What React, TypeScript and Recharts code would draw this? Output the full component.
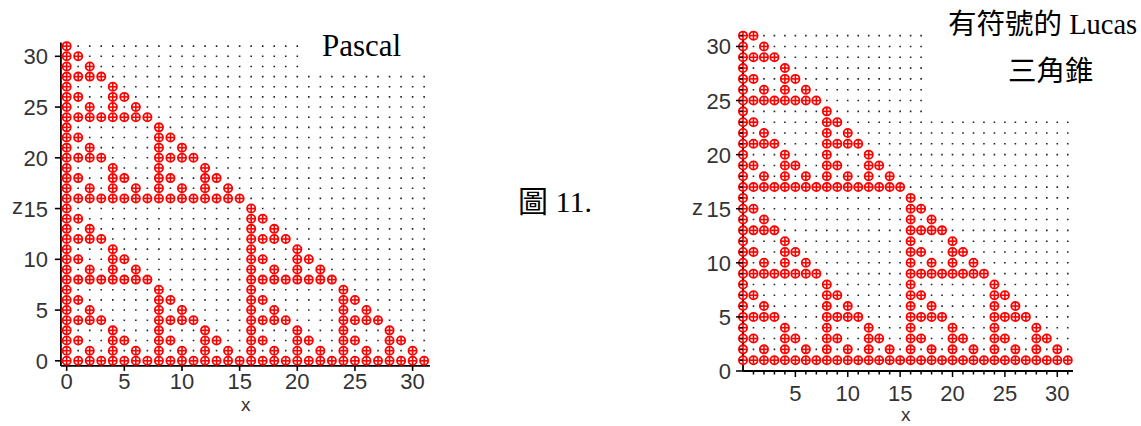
import React from 'react';
import { ScatterChart, Scatter, XAxis, YAxis, CartesianGrid } from 'recharts';

// ---------- DATA ----------
// Pascal triangle (left): rows from z = 31 (top) down to z = 0; 'o' = red point at that x (0..31)
const pascalRows: string[] = [
  'o.......|........|........|........', // 31
  'oo......|........|........|........', // 30
  'o.o.....|........|........|........', // 29
  'oooo....|........|........|........', // 28
  'o...o...|........|........|........', // 27
  'oo..oo..|........|........|........', // 26
  'o.o.o.o.|........|........|........', // 25
  'oooooooo|........|........|........', // 24
  'o.......|o.......|........|........', // 23
  'oo......|oo......|........|........', // 22
  'o.o.....|o.o.....|........|........', // 21
  'oooo....|oooo....|........|........', // 20
  'o...o...|o...o...|........|........', // 19
  'oo..oo..|oo..oo..|........|........', // 18
  'o.o.o.o.|o.o.o.o.|........|........', // 17
  'oooooooo|oooooooo|........|........', // 16
  'o.......|........|o.......|........', // 15
  'oo......|........|oo......|........', // 14
  'o.o.....|........|o.o.....|........', // 13
  'oooo....|........|oooo....|........', // 12
  'o...o...|........|o...o...|........', // 11
  'oo..oo..|........|oo..oo..|........', // 10
  'o.o.o.o.|........|o.o.o.o.|........', // 9
  'oooooooo|........|oooooooo|........', // 8
  'o.......|o.......|o.......|o.......', // 7
  'oo......|oo......|oo......|oo......', // 6
  'o.o.....|o.o.....|o.o.....|o.o.....', // 5
  'oooo....|oooo....|oooo....|oooo....', // 4
  'o...o...|o...o...|o...o...|o...o...', // 3
  'oo..oo..|oo..oo..|oo..oo..|oo..oo..', // 2
  'o.o.o.o.|o.o.o.o.|o.o.o.o.|o.o.o.o.', // 1
  'oooooooo|oooooooo|oooooooo|oooooooo', // 0
];
const pascalTopZ = 31;

// Signed Lucas triangle (right): rows from z = 31 (top) down to z = 1
const lucasRows: string[] = [
  'oo......|........|........|........', // 31
  'o.o.....|........|........|........', // 30
  'oooo....|........|........|........', // 29
  'o...o...|........|........|........', // 28
  'oo..oo..|........|........|........', // 27
  'o.o.o.o.|........|........|........', // 26
  'oooooooo|........|........|........', // 25
  'o.......|o.......|........|........', // 24
  'oo......|oo......|........|........', // 23
  'o.o.....|o.o.....|........|........', // 22
  'oooo....|oooo....|........|........', // 21
  'o...o...|o...o...|........|........', // 20
  'oo..oo..|oo..oo..|........|........', // 19
  'o.o.o.o.|o.o.o.o.|........|........', // 18
  'oooooooo|oooooooo|........|........', // 17
  'o.......|........|o.......|........', // 16
  'oo......|........|oo......|........', // 15
  'o.o.....|........|o.o.....|........', // 14
  'oooo....|........|oooo....|........', // 13
  'o...o...|........|o...o...|........', // 12
  'oo..oo..|........|oo..oo..|........', // 11
  'o.o.o.o.|........|o.o.o.o.|........', // 10
  'oooooooo|........|oooooooo|........', // 9
  'o.......|o.......|o.......|o.......', // 8
  'oo......|oo......|oo......|oo......', // 7
  'o.o.....|o.o.....|o.o.....|o.o.....', // 6
  'oooo....|oooo....|oooo....|oooo....', // 5
  'o...o...|o...o...|o...o...|o...o...', // 4
  'oo..oo..|oo..oo..|oo..oo..|oo..oo..', // 3
  'o.o.o.o.|o.o.o.o.|o.o.o.o.|o.o.o.o.', // 2
  'oooooooo|oooooooo|oooooooo|oooooooo', // 1
];
const lucasTopZ = 31;

// Axis ticks
const pascalXTicks = [0, 5, 10, 15, 20, 25, 30];
const pascalZTicks = [0, 5, 10, 15, 20, 25, 30];
const pascalGridZ = [0, 1, 2, 3, 4, 5, 6, 7, 8, 9, 10, 11, 12, 13, 14, 15, 16, 17, 18, 19, 20, 21, 22, 23, 24, 25, 26, 27, 28, 29, 30, 31];
const lucasXTicks = [1, 2, 3, 4, 5, 6, 7, 8, 9, 10, 11, 12, 13, 14, 15, 16, 17, 18, 19, 20, 21, 22, 23, 24, 25, 26, 27, 28, 29, 30, 31];
const lucasZTicks = [0, 1, 2, 3, 4, 5, 6, 7, 8, 9, 10, 11, 12, 13, 14, 15, 16, 17, 18, 19, 20, 21, 22, 23, 24, 25, 26, 27, 28, 29, 30, 31];
const lucasGridZ = [1, 2, 3, 4, 5, 6, 7, 8, 9, 10, 11, 12, 13, 14, 15, 16, 17, 18, 19, 20, 21, 22, 23, 24, 25, 26, 27, 28, 29, 30, 31];
const lucasLabeled = [0, 5, 10, 15, 20, 25, 30];

// ---------- helpers ----------
function rowsToPoints(rows: string[], topZ: number) {
  const pts: { x: number; z: number }[] = [];
  rows.forEach((raw, i) => {
    const r = raw.replace(/\|/g, '');
    const z = topZ - i;
    for (let x = 0; x < r.length; x++) if (r[x] === 'o') pts.push({ x, z });
  });
  return pts;
}
const pascalData = rowsToPoints(pascalRows, pascalTopZ);
const lucasData = rowsToPoints(lucasRows, lucasTopZ);

const TICK_FONT = '"Liberation Sans", Arial, sans-serif';
const TEXT_FONT = '"Liberation Serif", "Times New Roman", "Noto Sans CJK TC", serif';

const Marker = (props: any) => {
  const { cx, cy } = props;
  if (cx == null || cy == null) return <g />;
  const r = 4.1;
  return (
    <g>
      <circle cx={cx} cy={cy} r={r} fill="#ffffff" stroke="#f00" strokeWidth={1.8} />
      <line x1={cx - r} y1={cy} x2={cx + r} y2={cy} stroke="#f00" strokeWidth={1.6} />
      <line x1={cx} y1={cy - r} x2={cx} y2={cy + r} stroke="#f00" strokeWidth={1.6} />
    </g>
  );
};

const dotLine = (domainLen: number, firstOffsetUnits: number) => (props: any) => {
  const { x1, x2, y1, y2 } = props;
  const unit = (x2 - x1) / domainLen;
  const d = 1.6;
  const p = firstOffsetUnits * unit - d / 2;
  const off = unit - p;
  return (
    <line
      key={props.key ?? `${y1}`}
      x1={x1}
      x2={x2}
      y1={y1}
      y2={y2}
      stroke="#222"
      strokeWidth={1.6}
      strokeDasharray={`${d} ${unit - d}`}
      strokeDashoffset={off}
    />
  );
};

const PascalXTick = (props: any) => {
  const { x, y, payload } = props;
  return (
    <g>
      <line x1={x} y1={y} x2={x} y2={y + 5} stroke="#000" strokeWidth={1.6} />
      <text x={x} y={y + 23} textAnchor="middle" fontFamily={TICK_FONT} fontSize={22} fill="#333">
        {payload.value}
      </text>
    </g>
  );
};
const PascalZTick = (props: any) => {
  const { x, y, payload } = props;
  return (
    <g>
      <line x1={x} y1={y} x2={x - 6} y2={y} stroke="#000" strokeWidth={1.6} />
      <text x={x - 13} y={y + 8} textAnchor="end" fontFamily={TICK_FONT} fontSize={22} fill="#333">
        {payload.value}
      </text>
    </g>
  );
};
const LucasXTick = (props: any) => {
  const { x, y, payload } = props;
  const major = lucasLabeled.includes(payload.value);
  return (
    <g>
      <line x1={x} y1={y} x2={x} y2={y + (major ? 6 : 3.5)} stroke="#000" strokeWidth={1.5} />
      {major && (
        <text x={x} y={y + 30} textAnchor="middle" fontFamily={TICK_FONT} fontSize={22} fill="#333">
          {payload.value}
        </text>
      )}
    </g>
  );
};
const LucasZTick = (props: any) => {
  const { x, y, payload } = props;
  const major = lucasLabeled.includes(payload.value);
  return (
    <g>
      <line x1={x} y1={y} x2={x - (major ? 7 : 3.5)} y2={y} stroke="#000" strokeWidth={1.5} />
      {major && (
        <text x={x - 12} y={y + 8} textAnchor="end" fontFamily={TICK_FONT} fontSize={22} fill="#333">
          {payload.value}
        </text>
      )}
    </g>
  );
};

export default function App() {
  return (
    <div style={{ position: 'absolute', left: 0, top: 0, width: 1141, height: 426, background: '#fff', overflow: 'hidden' }}>
      {/* Left: Pascal */}
      <div style={{ position: 'absolute', left: 0, top: 0 }}>
        <ScatterChart width={450} height={426} margin={{ top: 42.6, right: 20.1, bottom: 30.1, left: 20.9 }}>
          <CartesianGrid
            vertical={false}
            horizontal={dotLine(32, 0.5)}
            horizontalValues={pascalGridZ}
            stroke="#222"
          />
          <XAxis
            type="number"
            dataKey="x"
            domain={[-0.5, 31.5]}
            ticks={pascalXTicks}
            interval={0}
            height={30}
            tickSize={0}
            tickMargin={0}
            tickLine={false}
            axisLine={{ stroke: '#000', strokeWidth: 1.8 }}
            tick={(p: any) => <PascalXTick {...p} />}
          />
          <YAxis
            type="number"
            dataKey="z"
            domain={[-0.5, 31.35]}
            ticks={pascalZTicks}
            interval={0}
            width={40}
            tickSize={0}
            tickMargin={0}
            tickLine={false}
            axisLine={{ stroke: '#000', strokeWidth: 1.8 }}
            tick={(p: any) => <PascalZTick {...p} />}
          />
          <Scatter data={pascalData} shape={(p: any) => <Marker {...p} />} isAnimationActive={false} />
        </ScatterChart>
      </div>

      {/* Right: signed Lucas */}
      <div style={{ position: 'absolute', left: 600, top: 0 }}>
        <ScatterChart width={541} height={426} margin={{ top: 31.3, right: 68, bottom: 25, left: 103 }}>
          <CartesianGrid
            vertical={false}
            horizontal={dotLine(31.5, 0)}
            horizontalValues={lucasGridZ}
            stroke="#222"
          />
          <Scatter data={lucasData} shape={(p: any) => <Marker {...p} />} isAnimationActive={false} />
          <XAxis
            type="number"
            dataKey="x"
            domain={[0, 31.5]}
            ticks={lucasXTicks}
            interval={0}
            height={30}
            tickSize={0}
            tickMargin={0}
            tickLine={false}
            axisLine={{ stroke: '#000', strokeWidth: 1.8 }}
            tick={(p: any) => <LucasXTick {...p} />}
          />
          <YAxis
            type="number"
            dataKey="z"
            domain={[0, 31.4]}
            ticks={lucasZTicks}
            interval={0}
            width={40}
            tickSize={0}
            tickMargin={0}
            tickLine={false}
            axisLine={{ stroke: '#000', strokeWidth: 1.8 }}
            tick={(p: any) => <LucasZTick {...p} />}
          />
        </ScatterChart>
      </div>

      {/* Text boxes and labels */}
      <svg width={1141} height={426} style={{ position: 'absolute', left: 0, top: 0, pointerEvents: 'none' }}>
        <rect x={303} y={0} width={140} height={72} fill="#fff" />
        <text x={322} y={56} fontFamily={TEXT_FONT} fontSize={31} fill="#000">Pascal</text>
        <rect x={925} y={0} width={216} height={119} fill="#fff" />
        <text x={948} y={34} fontFamily={TEXT_FONT} fontSize={28.5} fill="#000">有符號的 Lucas</text>
        <text x={1008} y={81} fontFamily={TEXT_FONT} fontSize={28.5} fill="#000">三角錐</text>
        <text x={518} y={212} fontFamily={TEXT_FONT} fontSize={30} fill="#000">圖 11.</text>
        <text x={12} y={214} fontFamily={TICK_FONT} fontSize={22} fill="#333">z</text>
        <text x={241} y={411} fontFamily={TICK_FONT} fontSize={19} fill="#333">x</text>
        <text x={692} y={215} fontFamily={TICK_FONT} fontSize={22} fill="#333">z</text>
        <text x={901} y={421} fontFamily={TICK_FONT} fontSize={19} fill="#333">x</text>
      </svg>
    </div>
  );
}
